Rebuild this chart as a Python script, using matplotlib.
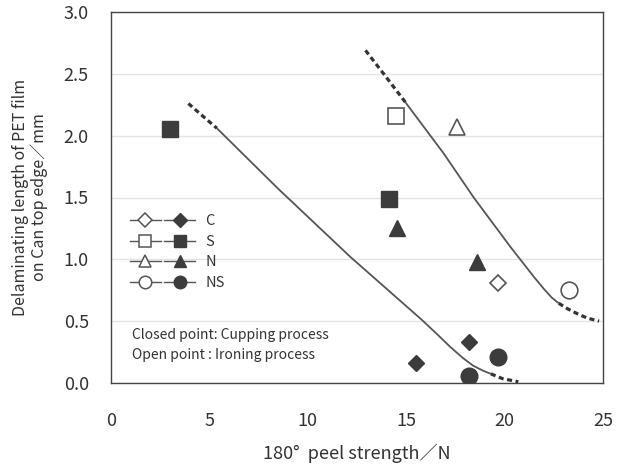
import matplotlib
matplotlib.use("Agg")
import matplotlib.pyplot as plt
from matplotlib.lines import Line2D
from matplotlib.legend_handler import HandlerTuple

plt.rcParams['font.family'] = ['Noto Sans CJK JP', 'DejaVu Sans']

# ---- data ----
C_open_x, C_open_y = [19.67], [0.81]
C_closed_x, C_closed_y = [15.52, 18.18], [0.16, 0.33]
S_open_x, S_open_y = [14.48], [2.16]
S_closed_x, S_closed_y = [3.02, 14.11], [2.05, 1.49]
N_open_x, N_open_y = [17.59], [2.07]
N_closed_x, N_closed_y = [14.54, 18.61], [1.25, 0.98]
NS_open_x, NS_open_y = [23.29], [0.756]
NS_closed_x, NS_closed_y = [19.66, 18.21], [0.21, 0.06]

# Cupping-process trend line (left)
L_dash1_x, L_dash1_y = [3.93, 4.65, 5.38], [2.26, 2.16, 2.06]
L_solid_x = [5.38, 8.5, 12.16, 15.8, 16.6, 17.25, 17.9, 18.4, 18.9, 19.3]
L_solid_y = [2.06, 1.57, 1.02, 0.51, 0.39, 0.29, 0.20, 0.14, 0.10, 0.074]
L_dash2_x, L_dash2_y = [19.3, 19.9, 20.7], [0.074, 0.035, 0.01]

# Ironing-process trend line (right)
R_dash1_x, R_dash1_y = [12.93, 13.95, 14.96], [2.69, 2.48, 2.27]
R_solid_x = [14.96, 16.91, 18.43, 20.3, 21.5, 22.0, 22.4, 22.75]
R_solid_y = [2.27, 1.855, 1.50, 1.10, 0.856, 0.76, 0.69, 0.645]
R_dash2_x = [22.75, 23.2, 23.7, 24.2, 24.8]
R_dash2_y = [0.645, 0.60, 0.56, 0.525, 0.50]

x_ticks = [0, 5, 10, 15, 20, 25]
y_ticks = [0.0, 0.5, 1.0, 1.5, 2.0, 2.5, 3.0]
y_tick_labels = ['0.0', '0.5', '1.0', '1.5', '2.0', '2.5', '3.0']
legend_labels = ['C', 'S', 'N', 'NS']

# ---- style ----
fill_c = '#3c3c3c'
edge_open = '#555555'
line_c = '#555555'
dash_c = '#333333'

fig = plt.figure(figsize=(6.29, 4.68), dpi=100)
ax = fig.add_axes([111/629, 1-383/468, 492/629, 371/468])

# grid
ax.set_axisbelow(True)
ax.yaxis.grid(True, color='#e4e4e4', lw=1.0)

# curves
for xs, ys in [(L_solid_x, L_solid_y), (R_solid_x, R_solid_y)]:
    ax.plot(xs, ys, color=line_c, lw=1.3, solid_capstyle='butt', zorder=2)
for xs, ys in [(L_dash1_x, L_dash1_y), (L_dash2_x, L_dash2_y),
               (R_dash1_x, R_dash1_y), (R_dash2_x, R_dash2_y)]:
    ax.plot(xs, ys, color=dash_c, lw=2.3, dashes=(1.6, 1.1), zorder=2)

ms_sq = 12
kw_open = dict(linestyle='none', markerfacecolor='white', markeredgecolor=edge_open,
               markeredgewidth=1.2, zorder=3)
kw_fill = dict(linestyle='none', markerfacecolor=fill_c, markeredgecolor=fill_c,
               markeredgewidth=1.0, zorder=3)

ax.plot(C_open_x, C_open_y, marker='D', markersize=8.5, **kw_open)
ax.plot(C_closed_x, C_closed_y, marker='D', markersize=8.5, **kw_fill)
ax.plot(S_open_x, S_open_y, marker='s', markersize=ms_sq, **kw_open)
ax.plot(S_closed_x, S_closed_y, marker='s', markersize=ms_sq, **kw_fill)
ax.plot(N_open_x, N_open_y, marker='^', markersize=ms_sq, **kw_open)
ax.plot(N_closed_x, N_closed_y, marker='^', markersize=ms_sq, **kw_fill)
ax.plot(NS_open_x, NS_open_y, marker='o', markersize=ms_sq, **kw_open)
ax.plot(NS_closed_x, NS_closed_y, marker='o', markersize=ms_sq, **kw_fill)

# axes
ax.set_xlim(0, 25)
ax.set_ylim(0, 3.0)
ax.set_xticks(x_ticks)
ax.set_xticklabels([str(v) for v in x_ticks])
ax.set_yticks(y_ticks)
ax.set_yticklabels(y_tick_labels)
ax.tick_params(axis='both', length=0, labelsize=13, colors='#333333')
ax.tick_params(axis='x', pad=21)
ax.tick_params(axis='y', pad=16)
for s in ax.spines.values():
    s.set_color('#444444')
    s.set_linewidth(1.0)

ax.set_xlabel('180°  peel strength／N', fontsize=13, color='#333333', labelpad=10)
ax.set_ylabel('Delaminating length of PET film\non Can top edge／mm', fontsize=11.5,
              color='#333333', labelpad=11, linespacing=1.15)

# legend
markers = ['D', 's', '^', 'o']
sizes = [7, 9, 9, 9]
handles = []
for m, s in zip(markers, sizes):
    h_open = Line2D([], [], color='#555555', lw=1.0, marker=m, markersize=s,
                    markerfacecolor='white', markeredgecolor='#555555', markeredgewidth=1.1)
    h_fill = Line2D([], [], color='#555555', lw=1.0, marker=m, markersize=s,
                    markerfacecolor=fill_c, markeredgecolor=fill_c)
    handles.append((h_open, h_fill))
ax.legend(handles, legend_labels, handler_map={tuple: HandlerTuple(ndivide=None, pad=0.2)},
          loc='upper left', bbox_to_anchor=(0.038, 0.455), frameon=False,
          fontsize=10.5, handlelength=4.5, handletextpad=0.7, labelspacing=0.45,
          borderpad=0, borderaxespad=0, numpoints=1, labelcolor='#333333')

ax.text(0.043, 0.129, 'Closed point: Cupping process', transform=ax.transAxes,
        fontsize=10, color='#333333', va='center', ha='left')
ax.text(0.043, 0.075, 'Open point : Ironing process', transform=ax.transAxes,
        fontsize=10, color='#333333', va='center', ha='left')

fig.savefig('out.png', dpi=100)
